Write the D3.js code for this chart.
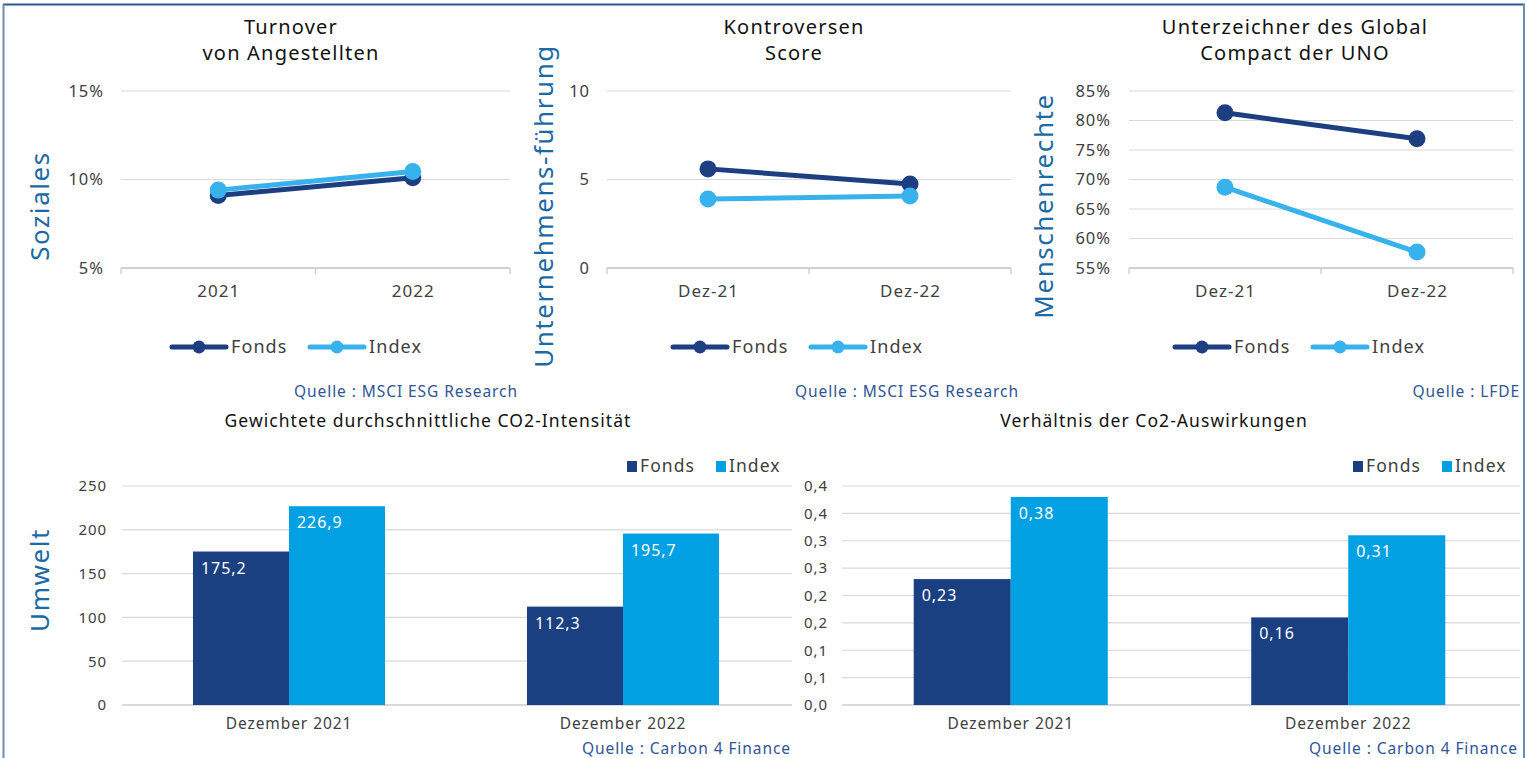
<!DOCTYPE html>
<html lang="de">
<head>
<meta charset="UTF-8">
<title>ESG Indikatoren</title>
<style>
    body { margin: 0; background: #fff; font-family: "Noto Sans", Arial, sans-serif; }
    svg text { font-family: "Noto Sans", Arial, sans-serif; letter-spacing: 0.06em; }
</style>
</head>
<body>
<svg id="chart" width="1527" height="758"></svg>

<script src="https://cdnjs.cloudflare.com/ajax/libs/d3/7.8.5/d3.min.js"></script>
<script>
// ---- data ----
const seriesNames = ["Fonds", "Index"];

const turnoverCats = ["2021", "2022"];
const turnoverFonds = [9.1, 10.1];
const turnoverIndex = [9.4, 10.45];
const turnoverTicks = [5, 10, 15];

const kontroCats = ["Dez-21", "Dez-22"];
const kontroFonds = [5.6, 4.75];
const kontroIndex = [3.9, 4.07];
const kontroTicks = [0, 5, 10];

const gcCats = ["Dez-21", "Dez-22"];
const gcFonds = [81.3, 76.9];
const gcIndex = [68.7, 57.7];
const gcTicks = [55, 60, 65, 70, 75, 80, 85];

const barCats = ["Dezember 2021", "Dezember 2022"];
const co2Fonds = [175.2, 112.3];
const co2Index = [226.9, 195.7];
const co2Ticks = [0, 50, 100, 150, 200, 250];

const ratioFonds = [0.23, 0.16];
const ratioIndex = [0.38, 0.31];
const ratioTicks = [0, 0.05, 0.1, 0.15, 0.2, 0.25, 0.3, 0.35, 0.4];
const ratioTickLabels = ["0,0", "0,1", "0,1", "0,2", "0,2", "0,3", "0,3", "0,4", "0,4"];

// ---- style ----
const colFondsLine = "#1d3f82";
const colIndexLine = "#38b2ec";
const colFondsBar = "#1a4082";
const colIndexBar = "#00a0e2";
const colGrid = "#d9d9d9";
const colTick = "#404040";
const colSource = "#2f5597";
const colAxisTitle = "#1b6aa5";

const svg = d3.select("#chart");
const comma = v => String(v).replace(".", ",");

// frame
svg.append("line").attr("x1", 3).attr("x2", 1525).attr("y1", 4.5).attr("y2", 4.5)
    .attr("stroke", "#2f5597").attr("stroke-width", 2);
svg.append("line").attr("x1", 3.5).attr("x2", 3.5).attr("y1", 4).attr("y2", 758)
    .attr("stroke", "#7089b5").attr("stroke-width", 2);
svg.append("line").attr("x1", 1524).attr("x2", 1524).attr("y1", 4).attr("y2", 758)
    .attr("stroke", "#7089b5").attr("stroke-width", 2);

function vTitle(text, x, y) {
    svg.append("text")
        .attr("transform", `translate(${x},${y}) rotate(-90)`)
        .attr("text-anchor", "middle")
        .attr("dominant-baseline", "central")
        .attr("fill", colAxisTitle)
        .attr("font-size", 26)
        .text(text);
}

function source(text, x, y) {
    svg.append("text").attr("x", x).attr("y", y)
        .attr("text-anchor", "end")
        .attr("fill", colSource)
        .attr("font-size", 15.5)
        .text(text);
}

function lineChart(cfg) {
    const x = d3.scalePoint().domain(cfg.cats).range([cfg.x0, cfg.x1]).padding(0.5);
    const y = d3.scaleLinear().domain([cfg.ticks[0], cfg.ticks[cfg.ticks.length - 1]]).range([268, 91]);
    const g = svg.append("g");

    // title
    cfg.title.forEach((t, i) => {
        g.append("text").attr("x", cfg.tx).attr("y", 34 + i * 26)
            .attr("text-anchor", "middle").attr("font-size", 20).attr("fill", "#111")
            .text(t);
    });

    // grid
    g.selectAll(".grid").data(cfg.ticks.slice(1)).enter().append("line")
        .attr("x1", cfg.x0).attr("x2", cfg.x1)
        .attr("y1", d => y(d)).attr("y2", d => y(d))
        .attr("stroke", colGrid).attr("stroke-width", 1.2);

    // y axis labels
    const yAxis = d3.axisLeft(y).tickValues(cfg.ticks).tickSize(0).tickPadding(0)
        .tickFormat(cfg.fmt);
    const ya = g.append("g").attr("transform", `translate(${cfg.lx},0)`).call(yAxis);
    ya.select(".domain").remove();
    ya.selectAll("text").attr("font-size", 16.5).attr("fill", colTick)
        .attr("font-family", "Noto Sans, Arial, sans-serif");

    // x axis
    const xa = g.append("g").attr("transform", `translate(0,${y(cfg.ticks[0])})`)
        .call(d3.axisBottom(x).tickSize(0).tickPadding(17));
    xa.select(".domain").attr("stroke", "#d0d0d0").attr("stroke-width", 2)
        .attr("d", `M${cfg.x0},0H${cfg.x1}`);
    xa.selectAll("text").attr("font-size", 17).attr("fill", colTick)
        .attr("font-family", "Noto Sans, Arial, sans-serif");
    const step = (cfg.x1 - cfg.x0) / cfg.cats.length;
    g.selectAll(".xt").data(d3.range(cfg.cats.length + 1)).enter().append("line")
        .attr("x1", d => cfg.x0 + d * step).attr("x2", d => cfg.x0 + d * step)
        .attr("y1", y(cfg.ticks[0])).attr("y2", y(cfg.ticks[0]) + 6)
        .attr("stroke", "#d0d0d0").attr("stroke-width", 1.5);

    // series
    const series = [
        { name: seriesNames[0], vals: cfg.fonds, color: colFondsLine },
        { name: seriesNames[1], vals: cfg.index, color: colIndexLine }
    ];
    const line = d3.line().x((d, i) => x(cfg.cats[i])).y(d => y(d));
    series.forEach(s => {
        g.append("path").datum(s.vals).attr("d", line)
            .attr("fill", "none").attr("stroke", s.color).attr("stroke-width", 5);
        g.selectAll(null).data(s.vals).enter().append("circle")
            .attr("cx", (d, i) => x(cfg.cats[i])).attr("cy", d => y(d)).attr("r", 8.5)
            .attr("fill", s.color);
    });

    // legend
    series.forEach((s, i) => {
        const lx = cfg.legX + i * 138;
        g.append("line").attr("x1", lx).attr("x2", lx + 54).attr("y1", 347).attr("y2", 347)
            .attr("stroke", s.color).attr("stroke-width", 5).attr("stroke-linecap", "round");
        g.append("circle").attr("cx", lx + 27).attr("cy", 347).attr("r", 6.5).attr("fill", s.color);
        g.append("text").attr("x", lx + 59).attr("y", 353).attr("font-size", 18).attr("fill", colTick)
            .text(s.name);
    });

    vTitle(cfg.axisTitle, cfg.atx, 206);
    source(cfg.source, cfg.srcX, 397);
}

function barChart(cfg) {
    const x = d3.scaleBand().domain(cfg.cats).range([cfg.x0, cfg.x1])
        .paddingInner(0.425).paddingOuter(0.2125);
    const y = d3.scaleLinear().domain([cfg.ticks[0], cfg.ticks[cfg.ticks.length - 1]]).range([705, 486]);
    const g = svg.append("g");

    g.append("text").attr("x", cfg.tx).attr("y", 427).attr("text-anchor", "middle")
        .attr("font-size", 17.5).attr("fill", "#111").text(cfg.title);

    g.selectAll(".grid").data(cfg.ticks.slice(1)).enter().append("line")
        .attr("x1", cfg.x0).attr("x2", cfg.gx1)
        .attr("y1", d => y(d)).attr("y2", d => y(d))
        .attr("stroke", colGrid).attr("stroke-width", 1.2);

    const ya = g.append("g").attr("transform", `translate(${cfg.lx},0)`)
        .call(d3.axisLeft(y).tickValues(cfg.ticks).tickSize(0).tickPadding(0)
            .tickFormat((d, i) => cfg.tickLabels[i]));
    ya.select(".domain").remove();
    ya.selectAll("text").attr("font-size", 15).attr("fill", colTick)
        .attr("font-family", "Noto Sans, Arial, sans-serif");

    const xa = g.append("g").attr("transform", "translate(0,705)")
        .call(d3.axisBottom(x).tickSize(0).tickPadding(13));
    xa.select(".domain").attr("stroke", colGrid).attr("stroke-width", 2)
        .attr("d", `M${cfg.x0},0H${cfg.gx1}`);
    xa.selectAll("text").attr("font-size", 15.5).attr("fill", colTick)
        .attr("font-family", "Noto Sans, Arial, sans-serif");

    const half = x.bandwidth() / 2;
    const series = [
        { name: seriesNames[0], vals: cfg.fonds, color: colFondsBar, off: 0 },
        { name: seriesNames[1], vals: cfg.index, color: colIndexBar, off: half }
    ];
    series.forEach(s => {
        g.selectAll(null).data(s.vals).enter().append("rect")
            .attr("x", (d, i) => x(cfg.cats[i]) + s.off).attr("width", half)
            .attr("y", d => y(d)).attr("height", d => y(0) - y(d))
            .attr("fill", s.color);
        g.selectAll(null).data(s.vals).enter().append("text")
            .attr("x", (d, i) => x(cfg.cats[i]) + s.off + 8).attr("y", d => y(d) + 22)
            .attr("font-size", 16).attr("fill", "#fff")
            .text(d => comma(d));
    });

    // legend
    series.forEach((s, i) => {
        const lx = cfg.legX + i * 89;
        g.append("rect").attr("x", lx).attr("y", 461).attr("width", 10).attr("height", 11).attr("fill", s.color);
        g.append("text").attr("x", lx + 13).attr("y", 472).attr("font-size", 17.5).attr("fill", colTick)
            .text(s.name);
    });

    source(cfg.source, cfg.srcX, 754);
}

lineChart({
    title: ["Turnover", "von Angestellten"], tx: 291,
    cats: turnoverCats, fonds: turnoverFonds, index: turnoverIndex, ticks: turnoverTicks,
    fmt: d => d + "%", x0: 121, x1: 510, lx: 104, legX: 172,
    axisTitle: "Soziales", atx: 39, source: "Quelle : MSCI ESG Research", srcX: 518
});

lineChart({
    title: ["Kontroversen", "Score"], tx: 794,
    cats: kontroCats, fonds: kontroFonds, index: kontroIndex, ticks: kontroTicks,
    fmt: d => d, x0: 607, x1: 1011, lx: 590, legX: 673,
    axisTitle: "Unternehmens-führung", atx: 543, source: "Quelle : MSCI ESG Research", srcX: 1019
});

lineChart({
    title: ["Unterzeichner des Global", "Compact der UNO"], tx: 1295,
    cats: gcCats, fonds: gcFonds, index: gcIndex, ticks: gcTicks,
    fmt: d => d + "%", x0: 1129, x1: 1513, lx: 1111, legX: 1175,
    axisTitle: "Menschenrechte", atx: 1043, source: "Quelle : LFDE", srcX: 1520
});

barChart({
    title: "Gewichtete durchschnittliche CO2-Intensität", tx: 428,
    cats: barCats, fonds: co2Fonds, index: co2Index, ticks: co2Ticks,
    tickLabels: co2Ticks.map(String),
    x0: 122, x1: 790, gx1: 792, lx: 107, legX: 627,
    source: "Quelle : Carbon 4 Finance", srcX: 791
});

barChart({
    title: "Verhältnis der Co2-Auswirkungen", tx: 1154,
    cats: barCats, fonds: ratioFonds, index: ratioIndex, ticks: ratioTicks,
    tickLabels: ratioTickLabels,
    x0: 842, x1: 1517, gx1: 1520, lx: 828, legX: 1353,
    source: "Quelle : Carbon 4 Finance", srcX: 1518
});

vTitle("Umwelt", 39, 580);
</script>
</body>
</html>
